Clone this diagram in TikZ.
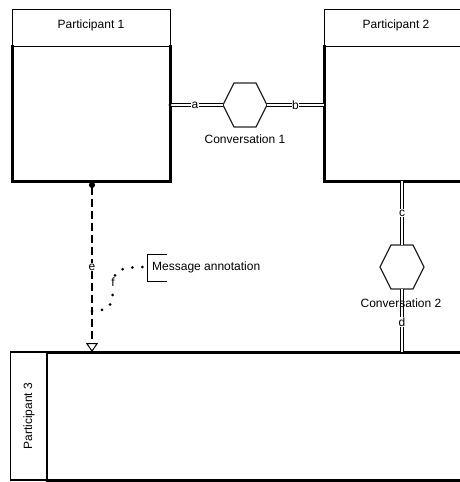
\documentclass[tikz,border=0pt]{standalone}
\usepackage{fontspec}
\setmainfont{Liberation Sans}
\usetikzlibrary{arrows.meta}
\begin{document}
\begin{tikzpicture}[x=1pt,y=-1pt,
  font=\fontsize{12}{14}\selectfont,
  area/.style={draw=none,inner sep=0pt,outer sep=0pt},
  thinline/.style={line width=0.9pt,draw=black},
  heavy/.style={line width=3pt,draw=black,line cap=rect},
  hexline/.style={line width=1.2pt,draw=black!85,line join=miter},
  conv/.style={double,double distance=2pt,line width=1pt},
  lab/.style={fill=white,inner sep=0.6pt},
  msgflow/.style={line width=1.6pt,dash pattern=on 8pt off 4pt,
    {Circle[length=6pt,width=6pt]}-{Triangle[open,length=9pt,width=12pt,line width=1pt,sep=0pt]}},
  assoc/.style={line width=3pt,line cap=round,dash pattern=on 0pt off 10pt}
]
\useasboundingbox (0,0) rectangle (460,482);
\clip (0,0) rectangle (460,482);
\fill[white] (0,0) rectangle (460,482);

% Participant 1
\node[area,minimum width=158pt,minimum height=172pt] (p1) at (91,95) {};
\draw[thinline] (12,9) rectangle (170,46);
\node at (91,25) {Participant 1};
\draw[heavy] (12,46) -- (12,181) -- (170,181) -- (170,46);

% Participant 2 (runs past the right edge)
\node[area,minimum width=156pt,minimum height=172pt] (p2) at (402,95) {};
\draw[thinline] (324,9) rectangle (490,46);
\node at (396,25) {Participant 2};
\draw[heavy] (324,46) -- (324,181) -- (490,181);

% Participant 3 (horizontal pool with a vertical label band)
\node[area,minimum width=470pt,minimum height=128pt] (p3) at (245,416) {};
\draw[thinline,line width=1.3pt] (10.5,352) rectangle (47,480);
\node[rotate=90] at (29,416) {Participant 3};
\draw[heavy] (47,352) -- (490,352);
\draw[heavy] (47,480) -- (490,480);

% Conversation 1
\node[area,minimum width=44pt,minimum height=44pt] (c1) at (245,105) {};
\draw[hexline] (c1.west) -- ([xshift=11pt]c1.north west) -- ([xshift=-11pt]c1.north east)
  -- (c1.east) -- ([xshift=-11pt]c1.south east) -- ([xshift=11pt]c1.south west) -- cycle;
\node (c1lab) at (245,139) {Conversation 1};

% Conversation 2
\node[area,minimum width=44pt,minimum height=44pt] (c2) at (402,267) {};
\draw[hexline] (c2.west) -- ([xshift=11pt]c2.north west) -- ([xshift=-11pt]c2.north east)
  -- (c2.east) -- ([xshift=-11pt]c2.south east) -- ([xshift=11pt]c2.south west) -- cycle;

% Conversation links
\draw[conv] (p1.east |- c1) -- node[lab,pos=0.47] {a} (c1.west);
\fill (p1.east |- c1) circle (1.6pt);
\draw[conv] (c1.east) -- node[lab,pos=0.5] {b} (p2.west |- c1);
\draw[conv] (c2 |- p2.south) -- node[lab,pos=0.5] {c} (c2.north);
\draw[conv] (c2.south) -- node[lab,pos=0.52] {d} (c2 |- p3.north);
\node (c2lab) at (401,303) {Conversation 2};

% Message flow
\coordinate (efrom) at (92,182);
\coordinate (eto) at (92,352);
\draw[msgflow] (efrom) -- node[lab,pos=0.5] {e} (eto);

% Text annotation and its association
\node[anchor=west,inner sep=0pt] (ann) at (152,267) {Message annotation};
\draw[thinline] (167,254) -- (147,254) -- (147,281) -- (167,281);
\coordinate (fstart) at (92,311);
\coordinate (fend) at (147,267);
\draw[assoc] (fstart) .. controls (112,311) and (113,302) .. (113,287)
  .. controls (113,271) and (117,267) .. (fend);
\node[lab] (flab) at (113,282) {f};
\end{tikzpicture}
\end{document}
